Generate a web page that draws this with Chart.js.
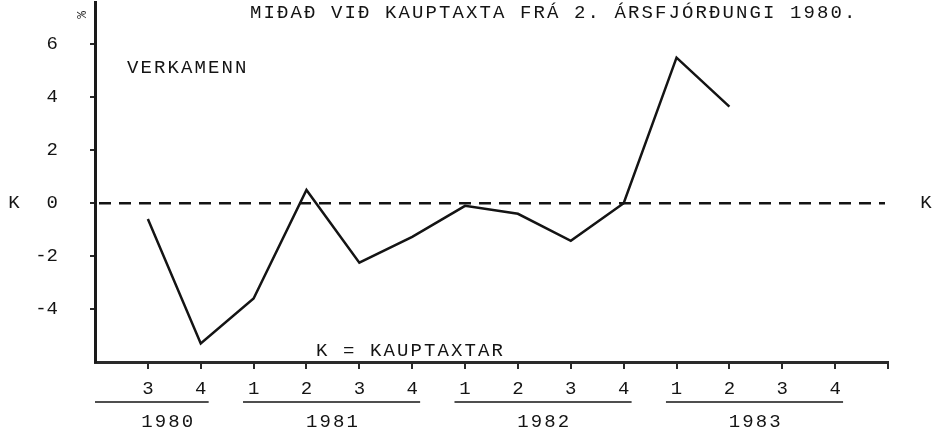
<!DOCTYPE html>
<html>
<head>
<meta charset="utf-8">
<script src="https://cdn.jsdelivr.net/npm/chart.js@4/dist/chart.umd.min.js"></script>
<style>
  html, body { margin: 0; padding: 0; background: #fff; }
  #wrap { width: 937px; height: 436px; }
</style>
</head>
<body>
<div id="wrap"><canvas id="chart"></canvas></div>
<script>
// quarters from 1980 Q2 (on the y axis) to 1984 Q1 (end of the x axis)
const quarterLabels = ['', '3', '4', '1', '2', '3', '4', '1', '2', '3', '4', '1', '2', '3', '4', ''];
const wageChange = [null, -0.6, -5.3, -3.6, 0.5, -2.25, -1.27, -0.1, -0.4, -1.42, 0.0, 5.5, 3.65, null, null, null];
const yearLabels = ['1980', '1981', '1982', '1983'];
const yearFirstQuarter = [1, 3, 7, 11];
const yearLastQuarter = [2, 6, 10, 14];
const yTicks = [-4, -2, 0, 2, 4, 6];

const FONT_FAMILY = "'Liberation Mono', 'Courier New', monospace";
const INK = '#141414';

// extra texts, the dashed K line and the year groups under the axis
const annotations = {
    id: 'annotations',
    beforeDatasetsDraw(chart) {
        const ctx = chart.ctx;
        const area = chart.chartArea;
        const zeroY = chart.scales.y.getPixelForValue(0);
        ctx.save();
        ctx.strokeStyle = INK;
        ctx.lineWidth = 2.5;
        ctx.setLineDash([12, 8]);
        ctx.beginPath();
        ctx.moveTo(area.left + 4, zeroY);
        ctx.lineTo(area.right - 3, zeroY);
        ctx.stroke();
        ctx.restore();
    },
    afterDraw(chart) {
        const ctx = chart.ctx;
        const xScale = chart.scales.x;
        const area = chart.chartArea;
        const zeroY = chart.scales.y.getPixelForValue(0);
        const step = xScale.getPixelForValue(1) - xScale.getPixelForValue(0);

        ctx.save();
        ctx.fillStyle = INK;
        ctx.font = '19px ' + FONT_FAMILY;
        ctx.letterSpacing = '2.1px';
        ctx.textBaseline = 'middle';

        ctx.textAlign = 'center';
        ctx.fillText('K', 15, zeroY);
        ctx.fillText('K', 927, zeroY);

        ctx.textAlign = 'left';
        ctx.fillText('MIÐAÐ VIÐ KAUPTAXTA FRÁ 2. ÁRSFJÓRÐUNGI 1980.', 250, 13);
        ctx.fillText('VERKAMENN', 127, 68);
        ctx.fillText('K = KAUPTAXTAR', 316, 351);

        // small turned percent sign above the y axis
        ctx.save();
        ctx.translate(80, 15);
        ctx.rotate(Math.PI / 2);
        ctx.font = '13px ' + FONT_FAMILY;
        ctx.letterSpacing = '0px';
        ctx.textAlign = 'center';
        ctx.fillText('%', 0, 0);
        ctx.restore();

        // year underline and label
        ctx.strokeStyle = INK;
        ctx.lineWidth = 1.5;
        ctx.textAlign = 'center';
        yearLabels.forEach((year, i) => {
            const x0 = xScale.getPixelForValue(yearFirstQuarter[i]);
            const x1 = xScale.getPixelForValue(yearLastQuarter[i]);
            const left = i === 0 ? area.left : x0 - step * 0.2;
            ctx.beginPath();
            ctx.moveTo(left, 402);
            ctx.lineTo(x1 + step * 0.15, 402);
            ctx.stroke();
            ctx.fillText(year, (x0 + x1) / 2 - (i === 0 ? 6 : 0), 422);
        });
        ctx.restore();
    }
};

new Chart(document.getElementById('chart'), {
    type: 'line',
    data: {
        labels: quarterLabels,
        datasets: [{
            data: wageChange,
            borderColor: INK,
            borderWidth: 2.5,
            pointRadius: 0,
            tension: 0,
            spanGaps: false
        }]
    },
    options: {
        responsive: true,
        maintainAspectRatio: false,
        animation: false,
        events: [],
        layout: {
            padding: { top: 2, right: 49, left: 0, bottom: 0 }
        },
        plugins: {
            legend: { display: false },
            tooltip: { enabled: false }
        },
        scales: {
            x: {
                offset: false,
                border: { color: '#2a2a2a', width: 3 },
                grid: {
                    drawOnChartArea: false,
                    drawTicks: true,
                    tickLength: 7,
                    lineWidth: 2,
                    color: ctx => ctx.index === 0 ? 'rgba(0,0,0,0)' : '#2a2a2a'
                },
                ticks: {
                    autoSkip: false,
                    maxRotation: 0,
                    padding: 9,
                    color: INK,
                    font: { family: FONT_FAMILY, size: 19 }
                },
                afterFit: scale => {
                    scale.height = 74;
                    scale.paddingLeft = 0;
                    scale.paddingRight = 0;
                }
            },
            y: {
                min: -6,
                max: 7.6,
                border: { color: '#1a1a1a', width: 3 },
                grid: {
                    drawOnChartArea: false,
                    drawTicks: true,
                    tickLength: 5,
                    lineWidth: 2,
                    color: '#2a2a2a'
                },
                ticks: {
                    stepSize: 2,
                    padding: 32,
                    color: INK,
                    font: { family: FONT_FAMILY, size: 19 }
                },
                afterBuildTicks: scale => {
                    scale.ticks = scale.ticks.filter(t => yTicks.includes(t.value));
                },
                afterFit: scale => {
                    scale.width = 95;
                    scale.paddingTop = 0;
                    scale.paddingBottom = 0;
                }
            }
        }
    },
    plugins: [annotations]
});
</script>
</body>
</html>
